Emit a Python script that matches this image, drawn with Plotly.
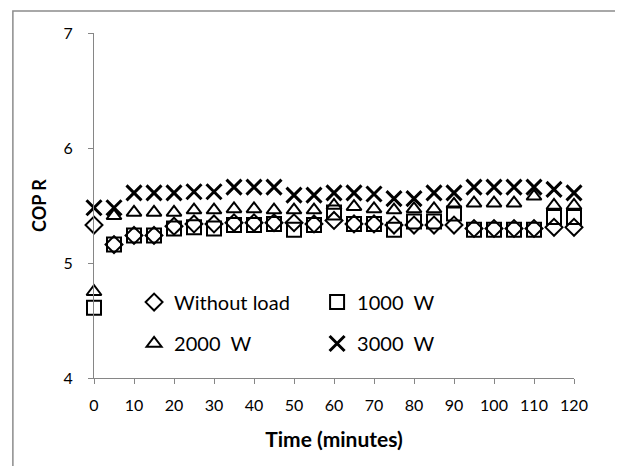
import plotly.graph_objects as go

time_min = [0, 5, 10, 15, 20, 25, 30, 35, 40, 45, 50, 55, 60, 65, 70, 75, 80, 85, 90, 95, 100, 105, 110, 115, 120]
without_load = [5.33, 5.16, 5.24, 5.24, 5.32, 5.34, 5.34, 5.35, 5.35, 5.35, 5.35, 5.34, 5.37, 5.34, 5.34,
                 5.33, 5.33, 5.33, 5.33, 5.30, 5.30, 5.30, 5.30, 5.31, 5.31]
load_1000 = [4.61, 5.16, 5.24, 5.24, 5.30, 5.31, 5.30, 5.33, 5.33, 5.34, 5.29, 5.33, 5.44, 5.34, 5.34,
             5.29, 5.36, 5.36, 5.43, 5.29, 5.29, 5.29, 5.29, 5.40, 5.40]
load_2000 = [4.75, 5.41, 5.44, 5.44, 5.44, 5.46, 5.46, 5.47, 5.47, 5.46, 5.46, 5.46, 5.50, 5.49, 5.47,
             5.46, 5.47, 5.47, 5.51, 5.52, 5.52, 5.52, 5.58, 5.50, 5.50]
load_3000 = [5.48, 5.48, 5.61, 5.61, 5.61, 5.62, 5.62, 5.66, 5.66, 5.66, 5.59, 5.59, 5.61, 5.61, 5.60,
             5.56, 5.56, 5.61, 5.61, 5.66, 5.66, 5.66, 5.66, 5.64, 5.61]

x_ticks = [0, 10, 20, 30, 40, 50, 60, 70, 80, 90, 100, 110, 120]
y_ticks = [4, 5, 6, 7]

FONT = "Lato"
fig = go.Figure()
series = [
    ("Without load", without_load, "diamond-open", 13, 2, "legend"),
    ("1000  W", load_1000, "square-open", 14, 2, "legend"),
    ("2000  W", load_2000, "triangle-up-open", 13, 2, "legend2"),
    ("3000  W", load_3000, "x-thin-open", 15, 3, "legend2"),
]
for name, vals, sym, size, lw, lg in series:
    fig.add_trace(go.Scatter(
        x=time_min, y=vals, mode="markers", name=name, legend=lg, cliponaxis=False,
        marker=dict(symbol=sym, size=size, color="black", line=dict(color="black", width=lw)),
    ))

axis_common = dict(showgrid=False, zeroline=False, showline=True, linecolor="#868686", linewidth=1,
                   ticks="outside", tickcolor="#868686", ticklen=5, tickwidth=1,
                   tickfont=dict(family=FONT, size=16, color="black"))
fig.update_xaxes(range=[0, 120], tickvals=x_ticks, ticklabelstandoff=8, **axis_common,
                 title=dict(text="<b>Time (minutes)</b>", font=dict(family=FONT, size=21, color="black"), standoff=19))
fig.update_yaxes(range=[4, 7], tickvals=y_ticks, ticklabelstandoff=12, **axis_common,
                 title=dict(text="<b>COP R</b>", font=dict(family=FONT, size=18, color="black"), standoff=12))

legend_common = dict(orientation="h", xanchor="left", yanchor="middle", bgcolor="rgba(0,0,0,0)",
                     font=dict(family=FONT, size=20, color="black"), itemwidth=30,
                     entrywidth=138, entrywidthmode="pixels", tracegroupgap=0)
fig.update_layout(
    width=613, height=458,
    margin=dict(l=86, r=47, t=25, b=88, autoexpand=False),
    paper_bgcolor="white", plot_bgcolor="white",
    font=dict(family=FONT, color="black"),
    legend=dict(x=0.0835, y=0.22, **legend_common),
    legend2=dict(x=0.0835, y=0.10, **legend_common),
    shapes=[dict(type="path", xref="paper", yref="paper",
                 path="M -0.169,-0.4 L -0.169,1.064 L 1.0958,1.064 L 1.0958,-0.4",
                 line=dict(color="#8c8c8c", width=1.5), layer="below")],
)
fig.write_html("out.html")
